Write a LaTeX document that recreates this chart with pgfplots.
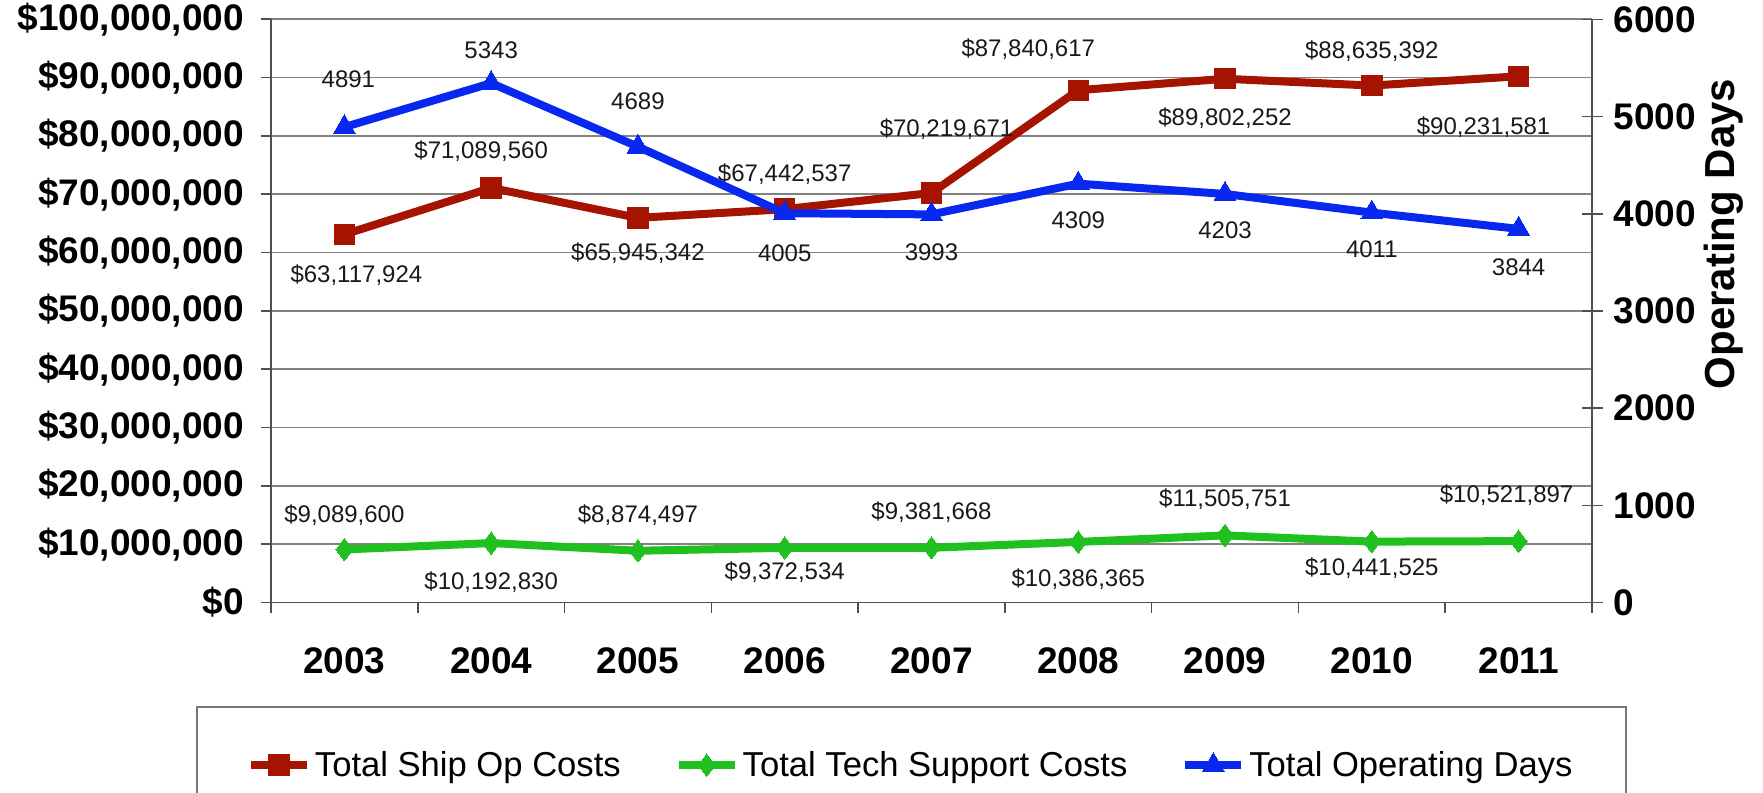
\documentclass[border=0pt]{standalone}
\usepackage{pgfplots}
\usepackage{pgfplotstable}
\pgfplotsset{compat=1.18}
\usepackage{fontspec}
\setmainfont{Liberation Sans}
\definecolor{shipred}{RGB}{165,20,0}
\definecolor{techgreen}{RGB}{32,192,32}
\definecolor{dayblue}{RGB}{8,40,240}
\definecolor{gridgray}{RGB}{130,130,130}
\definecolor{axgray}{RGB}{80,80,80}

\pgfplotstableread{
x y dx dy lab
0 63117924 6 -20.5 63,117,924
1 71089560 -5 18.6 71,089,560
2 65945342 0 -17.5 65,945,342
3 67442537 0 17.5 67,442,537
4 70219671 7.5 32 70,219,671
5 87840617 -25 20.3 87,840,617
6 89802252 0 -19.6 89,802,252
7 88635392 0 17 88,635,392
8 90231581 -17.5 -25.4 90,231,581
}\shiptab

\pgfplotstableread{
x y dx dy lab
0 9089600 0 17 9,089,600
1 10192830 0 -19.6 10,192,830
2 8874497 0 17.8 8,874,497
3 9372534 0 -12 9,372,534
4 9381668 0 18 9,381,668
5 10386365 0 -18.5 10,386,365
6 11505751 0 18 11,505,751
7 10441525 0 -13.5 10,441,525
8 10521897 -6 23 10,521,897
}\techtab

\pgfplotstableread{
x y dx dy lab
0 4891 2 24 4891
1 5343 0 16.3 5343
2 4689 0 22.7 4689
3 4005 0 -20 4005
4 3993 0 -18.7 3993
5 4309 0 -18.3 4309
6 4203 0 -18.2 4203
7 4011 0 -18.5 4011
8 3844 0 -19 3844
}\daytab

\pgfplotsset{
  labstyle/.style={
    point meta=explicit symbolic,
    visualization depends on={\thisrow{dx}\as\ldx},
    visualization depends on={\thisrow{dy}\as\ldy},
    every node near coord/.append style={anchor=center, xshift=\ldx pt, yshift=\ldy pt,
      font=\fontsize{12}{12}\selectfont, text=black!90, inner sep=0pt},
  },
  shipsty/.style={color=shipred, line width=4pt, line join=round, mark=square*, mark size=5.1pt, mark options={solid, fill=shipred, draw=shipred, line width=0pt}},
  techsty/.style={color=techgreen, line width=4pt, line join=round, mark=diamond*, mark size=5.6pt, mark options={solid, fill=techgreen, draw=techgreen, line width=0pt}},
  daysty/.style={color=dayblue, line width=4pt, line join=round, mark=triangle*, mark size=6.3pt, mark options={solid, fill=dayblue, draw=dayblue, line width=0pt}},
}

\begin{document}
\begin{tikzpicture}
\begin{axis}[
  at={(0,0)}, anchor=south west,
  scale only axis, width=660.5pt, height=291.6pt,
  xmin=-0.5, xmax=8.5, ymin=0, ymax=100000000,
  clip=false,
  axis y line*=left, axis x line*=bottom,
  axis line style={draw=axgray, line width=0.8pt},
  xtick={-0.5,0.5,1.5,2.5,3.5,4.5,5.5,6.5,7.5,8.5},
  x tick label as interval,
  xticklabels={2003,2004,2005,2006,2007,2008,2009,2010,2011},
  ytick={0,10000000,20000000,30000000,40000000,50000000,60000000,70000000,80000000,90000000,100000000},
  yticklabels={{\$0},{\$10,000,000},{\$20,000,000},{\$30,000,000},{\$40,000,000},{\$50,000,000},{\$60,000,000},{\$70,000,000},{\$80,000,000},{\$90,000,000},{\$100,000,000}},
  scaled y ticks=false,
  tick align=outside, major tick length=5pt,
  tick style={draw=axgray, line width=0.8pt},
  ymajorgrids, grid style={draw=gridgray, line width=0.8pt},
  ticklabel style={font=\fontsize{18.5}{18.5}\selectfont\bfseries},
  yticklabel style={xshift=-5pt},
  xticklabel style={yshift=-14pt},
]
\addplot[shipsty, labstyle, nodes near coords={\$\pgfplotspointmeta}] table[x=x, y=y, meta=lab]{\shiptab};
\addplot[techsty, labstyle, nodes near coords={\$\pgfplotspointmeta}] table[x=x, y=y, meta=lab]{\techtab};
\end{axis}
\begin{axis}[
  at={(0,0)}, anchor=south west,
  scale only axis, width=660.5pt, height=291.6pt,
  xmin=-0.5, xmax=8.5, ymin=0, ymax=6000,
  clip=false,
  axis y line*=right, axis x line=none,
  axis line style={draw=axgray, line width=0.8pt},
  ytick={0,1000,2000,3000,4000,5000,6000},
  yticklabels={0,1000,2000,3000,4000,5000,6000},
  tick align=center, major tick length=10.5pt,
  tick style={draw=axgray, line width=0.8pt},
  ticklabel style={font=\fontsize{18.5}{18.5}\selectfont\bfseries},
  yticklabel style={xshift=2pt},
  ylabel={Operating Days},
  ylabel style={font=\fontsize{21}{21}\selectfont\bfseries, at={(axis description cs:1.10,0.632)}, anchor=center},
  legend columns=3,
  legend image code/.code={\draw[mark repeat=2,mark phase=2,#1] plot coordinates {(0pt,0pt) (14pt,0pt) (28pt,0pt)};},
  legend style={at={(axis description cs:-0.0568,-0.1775)}, anchor=north west,
    draw={rgb,255:red,120;green,120;blue,120}, line width=1pt,
    inner xsep=25pt, inner ysep=20pt,
    font=\fontsize{17.3}{17.3}\selectfont,
    nodes={inner xsep=2pt},
    /tikz/every even column/.append style={column sep=25pt}},
]
\addlegendimage{shipsty}
\addlegendentry{Total Ship Op Costs}
\addlegendimage{techsty}
\addlegendentry{Total Tech Support Costs}
\addplot[daysty, labstyle, nodes near coords] table[x=x, y=y, meta=lab]{\daytab};
\addlegendentry{Total Operating Days}
\end{axis}
\pgfresetboundingbox
\path[use as bounding box] (-135.5pt,-95.25pt) rectangle (746pt,301.25pt);
\end{tikzpicture}
\end{document}
